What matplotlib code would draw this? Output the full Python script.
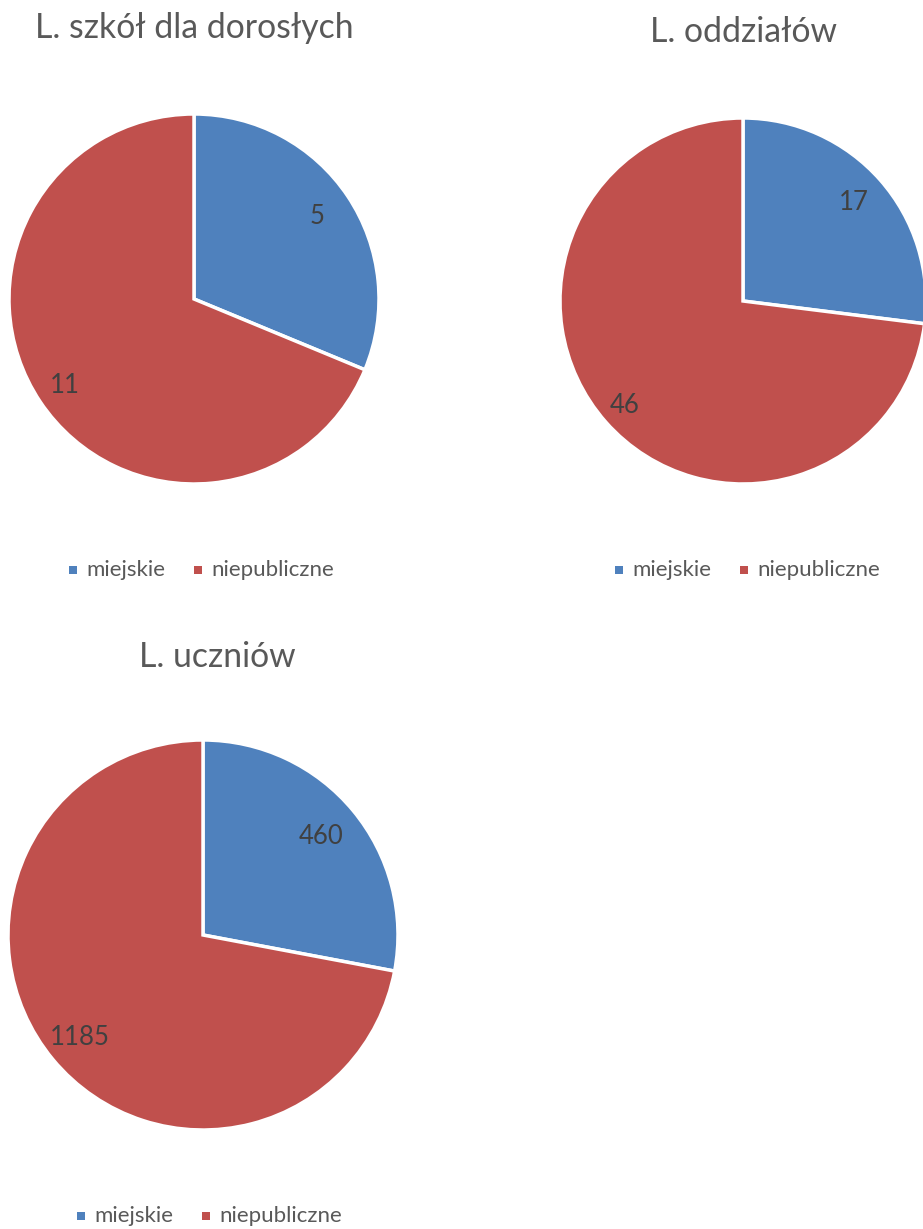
import matplotlib
matplotlib.use("Agg")
import matplotlib.pyplot as plt
import numpy as np
from matplotlib.patches import Rectangle

plt.rcParams['font.family'] = ['Lato', 'DejaVu Sans']

categories = ["miejskie", "niepubliczne"]
colors = ["#4F81BD", "#C0504D"]
titles = ["L. szkół dla dorosłych", "L. oddziałów", "L. uczniów"]
szkoly = [5, 11]
oddzialy = [17, 46]
uczniowie = [460, 1185]

W, H = 923, 1229
fig = plt.figure(figsize=(W / 100, H / 100), dpi=100)

def add_pie(values, cx, cy, r, title, tx, ty, lx, ly, dists):
    k = 1.3
    ax = fig.add_axes([(cx - k * r) / W, (H - cy - k * r) / H, 2 * k * r / W, 2 * k * r / H])
    total = sum(values)
    wedges, texts, autotexts = ax.pie(
        values, colors=colors, startangle=90, counterclock=False,
        wedgeprops=dict(edgecolor="white", linewidth=2.5),
        autopct=lambda p: f"{round(p * total / 100)}", pctdistance=0.8,
        textprops=dict(color="#404040", fontsize=18.5))
    for w, t, d in zip(wedges, autotexts, dists):
        ang = np.deg2rad((w.theta1 + w.theta2) / 2)
        t.set_position((d * np.cos(ang), d * np.sin(ang)))
    ax.set_xlim(-k, k)
    ax.set_ylim(-k, k)
    ax.set_aspect("equal")
    fig.text(tx / W, 1 - ty / H, title, ha="center", va="center", fontsize=24.3, color="#595959")
    x = lx
    for c, lab in zip(colors, categories):
        fig.patches.append(Rectangle((x / W, 1 - (ly + 4) / H), 8 / W, 8 / H,
                                     transform=fig.transFigure, facecolor=c, edgecolor="none"))
        fig.text((x + 17) / W, 1 - ly / H, lab, ha="left", va="center", fontsize=16, color="#595959")
        x += 125

add_pie(szkoly, 194, 299, 185, titles[0], 194, 28, 69, 570, [0.80, 0.84])
add_pie(oddzialy, 743, 301, 183, titles[1], 743, 32, 615, 570, [0.81, 0.86])
add_pie(uczniowie, 203, 935, 195, titles[2], 217, 657, 77, 1216, [0.79, 0.82])

fig.savefig("out.png", dpi=100)
